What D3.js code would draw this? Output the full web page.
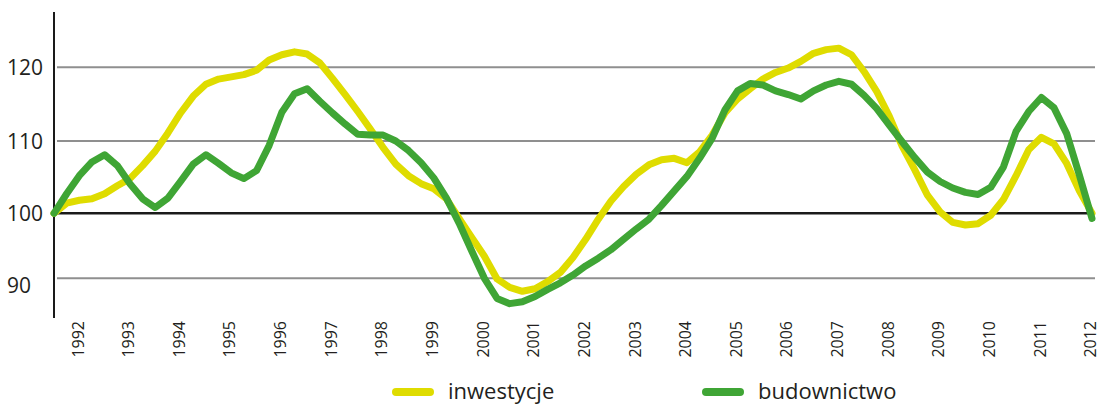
<!DOCTYPE html>
<html>
<head>
<meta charset="utf-8">
<script src="https://cdn.jsdelivr.net/npm/d3@7"></script>
<style>
  body { margin: 0; background: #fff; }
  text { font-family: "Open Sans", sans-serif; fill: #231f20; }
</style>
</head>
<body>
<div id="chart"></div>
<script>
// Quarterly index values, first point mid-1991, last point 2012.
var startYear = 1991.5;
var inwestycje = [100.0, 101.4, 101.8, 102.0, 102.7, 103.8, 104.8, 106.6, 108.6, 111.1,
    113.8, 116.1, 117.7, 118.4, 118.7, 119.0, 119.6, 121.0, 121.7, 122.1,
    121.8, 120.6, 118.5, 116.3, 114.0, 111.6, 109.1, 106.8, 105.2, 104.1,
    103.4, 102.0, 99.2, 96.3, 93.4, 89.9, 88.6, 88.0, 88.4, 89.5,
    90.9, 93.2, 96.0, 99.1, 101.7, 103.7, 105.4, 106.7, 107.4, 107.6,
    107.0, 108.5, 110.8, 113.8, 115.7, 117.1, 118.4, 119.3, 119.9, 120.8,
    121.9, 122.4, 122.6, 121.7, 119.4, 116.7, 113.3, 109.3, 106.0, 102.5,
    100.2, 98.6, 98.2, 98.4, 99.7, 101.9, 105.2, 108.8, 110.5, 109.6,
    106.9, 103.1, 100.0];
var budownictwo = [100.0, 102.7, 105.2, 107.1, 108.1, 106.6, 104.1, 102.0, 100.8, 102.1,
    104.4, 106.8, 108.1, 106.9, 105.6, 104.8, 105.9, 109.4, 113.9, 116.4,
    117.1, 115.4, 113.8, 112.3, 110.9, 110.8, 110.8, 110.0, 108.7, 107.0,
    104.9, 102.1, 98.5, 94.2, 90.0, 86.9, 86.1, 86.4, 87.2, 88.3,
    89.3, 90.5, 91.9, 93.1, 94.4, 96.0, 97.6, 99.1, 101.1, 103.1,
    105.1, 107.6, 110.4, 114.2, 116.8, 117.8, 117.6, 116.8, 116.3, 115.7,
    116.8, 117.6, 118.1, 117.7, 116.2, 114.4, 112.1, 109.9, 107.7, 105.7,
    104.4, 103.5, 102.9, 102.6, 103.6, 106.4, 111.3, 114.0, 115.9, 114.5,
    111.0, 105.3, 99.2];
var years = d3.range(1992, 2013); // tick labels 1992..2012
var yTicks = [90, 100, 110, 120];
var seriesNames = ['inwestycje', 'budownictwo'];
var seriesColors = ['#dfdc00', '#3fa535'];

var width = 1101, height = 410;

var svg = d3.select('#chart').append('svg')
    .attr('width', width)
    .attr('height', height);

var x = d3.scaleLinear()
    .domain([startYear, 2012])
    .range([54, 1092]);

// The printed grid is not quite evenly spaced, so the scale is piecewise.
var y = d3.scaleLinear()
    .domain([90, 100, 110, 120])
    .range([278.3, 213.3, 141, 67.3]);

// Horizontal grid lines (100 is the black baseline).
svg.append('g').selectAll('line')
    .data(yTicks)
    .join('line')
    .attr('x1', d => d == 100 ? 54 : 57)
    .attr('x2', 1095)
    .attr('y1', d => y(d))
    .attr('y2', d => y(d))
    .attr('stroke', d => d == 100 ? '#1a1a1a' : '#8f8f8f')
    .attr('stroke-width', d => d == 100 ? 2.4 : 2);

// Y labels, left aligned.
svg.append('g').selectAll('text')
    .data(yTicks)
    .join('text')
    .attr('x', 7)
    .attr('y', d => y(d) + (d == 90 ? 7 : 0))
    .attr('dy', '0.36em')
    .style('font-size', '21px')
    .text(d => d);

// Vertical axis line.
svg.append('line')
    .attr('x1', 54).attr('x2', 54)
    .attr('y1', 12).attr('y2', 318)
    .attr('stroke', '#1a1a1a')
    .attr('stroke-width', 2);

// Year labels, rotated.
svg.append('g').selectAll('text')
    .data(years)
    .join('text')
    .attr('transform', d => 'translate(' + (x(d) - 1.5) + ',321) rotate(-90)')
    .attr('text-anchor', 'end')
    .attr('dy', '0.36em')
    .style('font-size', '16px')
    .text(d => d);

// Lines.
var line = d3.line()
    .x((d, i) => x(startYear + i / 4))
    .y(d => y(d));

[inwestycje, budownictwo].forEach(function(values, k) {
    svg.append('path')
        .datum(values)
        .attr('d', line)
        .attr('fill', 'none')
        .attr('stroke', seriesColors[k])
        .attr('stroke-width', 7)
        .attr('stroke-linejoin', 'round')
        .attr('stroke-linecap', 'round');
});

// Legend.
var legendX = [396, 706];
var legend = svg.append('g').selectAll('g')
    .data(seriesNames)
    .join('g')
    .attr('transform', (d, i) => 'translate(' + legendX[i] + ',392)');

legend.append('line')
    .attr('x1', 0).attr('x2', 34)
    .attr('stroke', (d, i) => seriesColors[i])
    .attr('stroke-width', 8)
    .attr('stroke-linecap', 'round');

legend.append('text')
    .attr('x', 52)
    .attr('dy', '0.3em')
    .style('font-size', '22px')
    .text(d => d);
</script>
</body>
</html>
